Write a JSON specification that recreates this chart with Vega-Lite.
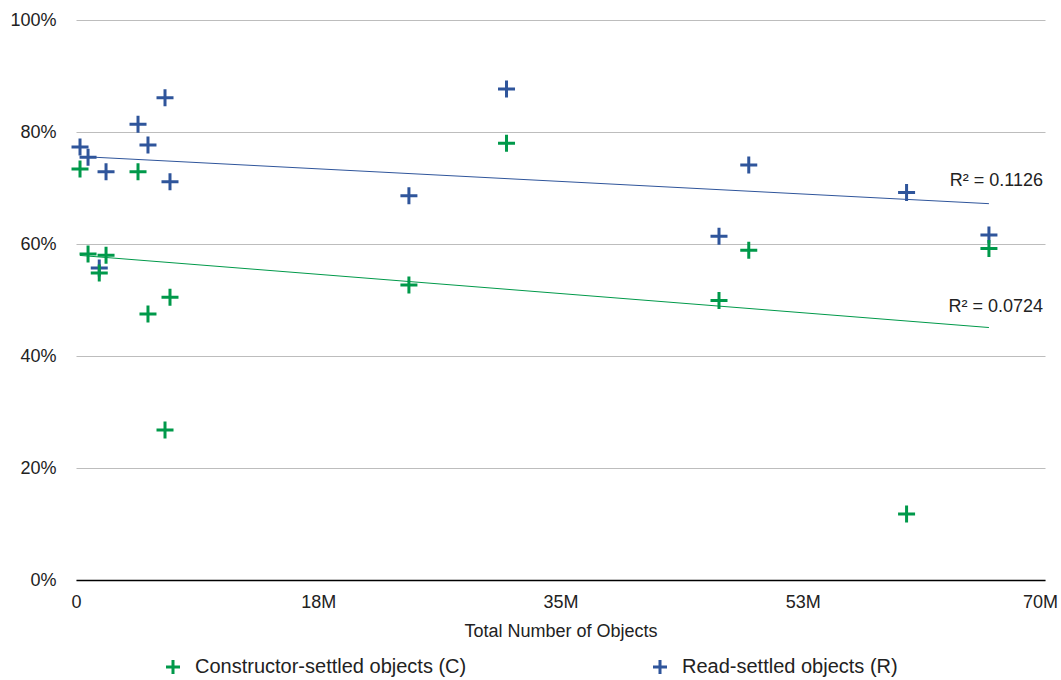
{
  "$schema": "https://vega.github.io/schema/vega-lite/v6.json",
  "width": 969,
  "height": 560,
  "autosize": "none",
  "padding": {"left": 76, "top": 20, "right": 16, "bottom": 100},
  "background": "white",
  "config": {
    "view": {"stroke": null},
    "font": "Liberation Sans",
    "axis": {"labelFont": "Liberation Sans", "titleFont": "Liberation Sans", "labelColor": "#222222", "titleColor": "#222222"}
  },
  "datasets": {
    "points": [
      {"objects": 290000, "settled": 0.773, "series": "Read-settled objects (R)"},
      {"objects": 870000, "settled": 0.755, "series": "Read-settled objects (R)"},
      {"objects": 1680000, "settled": 0.557, "series": "Read-settled objects (R)"},
      {"objects": 2170000, "settled": 0.729, "series": "Read-settled objects (R)"},
      {"objects": 4480000, "settled": 0.814, "series": "Read-settled objects (R)"},
      {"objects": 5200000, "settled": 0.777, "series": "Read-settled objects (R)"},
      {"objects": 6430000, "settled": 0.861, "series": "Read-settled objects (R)"},
      {"objects": 6790000, "settled": 0.711, "series": "Read-settled objects (R)"},
      {"objects": 24050000, "settled": 0.686, "series": "Read-settled objects (R)"},
      {"objects": 31100000, "settled": 0.877, "series": "Read-settled objects (R)"},
      {"objects": 46450000, "settled": 0.614, "series": "Read-settled objects (R)"},
      {"objects": 48600000, "settled": 0.741, "series": "Read-settled objects (R)"},
      {"objects": 60000000, "settled": 0.692, "series": "Read-settled objects (R)"},
      {"objects": 65950000, "settled": 0.616, "series": "Read-settled objects (R)"},
      {"objects": 290000, "settled": 0.734, "series": "Constructor-settled objects (C)"},
      {"objects": 870000, "settled": 0.582, "series": "Constructor-settled objects (C)"},
      {"objects": 1680000, "settled": 0.548, "series": "Constructor-settled objects (C)"},
      {"objects": 2170000, "settled": 0.580, "series": "Constructor-settled objects (C)"},
      {"objects": 4480000, "settled": 0.729, "series": "Constructor-settled objects (C)"},
      {"objects": 5200000, "settled": 0.475, "series": "Constructor-settled objects (C)"},
      {"objects": 6430000, "settled": 0.268, "series": "Constructor-settled objects (C)"},
      {"objects": 6790000, "settled": 0.505, "series": "Constructor-settled objects (C)"},
      {"objects": 24050000, "settled": 0.527, "series": "Constructor-settled objects (C)"},
      {"objects": 31100000, "settled": 0.780, "series": "Constructor-settled objects (C)"},
      {"objects": 46450000, "settled": 0.499, "series": "Constructor-settled objects (C)"},
      {"objects": 48600000, "settled": 0.589, "series": "Constructor-settled objects (C)"},
      {"objects": 60000000, "settled": 0.118, "series": "Constructor-settled objects (C)"},
      {"objects": 65950000, "settled": 0.592, "series": "Constructor-settled objects (C)"}
    ],
    "labels": [
      {"objects": 70000000, "settled": 0.7125, "label": "R² = 0.1126"},
      {"objects": 70000000, "settled": 0.4875, "label": "R² = 0.0724"}
    ]
  },
  "layer": [
    {
      "data": {"name": "points"},
      "transform": [{"regression": "settled", "on": "objects", "groupby": ["series"]}],
      "mark": {"type": "line", "strokeWidth": 1, "clip": false},
      "encoding": {
        "x": {"field": "objects", "type": "quantitative"},
        "y": {"field": "settled", "type": "quantitative"},
        "color": {"field": "series", "type": "nominal"}
      }
    },
    {
      "data": {"name": "points"},
      "mark": {"type": "point", "shape": "M-1,0H1M0,-1V1", "filled": false, "strokeWidth": 3, "size": 289, "opacity": 1},
      "encoding": {
        "x": {
          "field": "objects", "type": "quantitative",
          "scale": {"domain": [0, 70000000], "nice": false},
          "axis": {
            "title": "Total Number of Objects",
            "titleFontSize": 18, "titleFontWeight": "normal", "titlePadding": 11,
            "values": [0, 17500000, 35000000, 52500000, 70000000],
            "labelExpr": "datum.value == 0 ? '0' : round(datum.value / 1000000) + 'M'",
            "labelFontSize": 18, "labelPadding": 13,
            "labelOffset": {"condition": {"test": "datum.value == 70000000", "value": -5}, "value": 0},
            "ticks": false, "grid": false,
            "domainColor": "#000000", "domainWidth": 1.5,
            "labelFlush": false
          }
        },
        "y": {
          "field": "settled", "type": "quantitative",
          "scale": {"domain": [0, 1], "nice": false},
          "axis": {
            "title": null, "format": ".0%",
            "values": [0, 0.2, 0.4, 0.6, 0.8, 1],
            "labelFontSize": 18, "labelPadding": 20,
            "ticks": false, "domain": false,
            "gridColor": "#bdbdbd", "gridWidth": 1
          }
        },
        "color": {
          "field": "series", "type": "nominal",
          "scale": {"domain": ["Constructor-settled objects (C)", "Read-settled objects (R)"], "range": ["#00994a", "#2f559b"]},
          "legend": {
            "title": null, "orient": "none", "legendX": 87, "legendY": 637,
            "direction": "horizontal",
            "symbolType": "M-1,0H1M0,-1V1", "symbolStrokeWidth": 3, "symbolSize": 196,
            "labelFontSize": 20, "labelFont": "Liberation Sans", "labelColor": "#222222",
            "labelOffset": 12, "columnPadding": 180, "padding": 0, "labelLimit": 400
          }
        }
      }
    },
    {
      "data": {"name": "labels"},
      "mark": {"type": "text", "align": "right", "baseline": "middle", "fontSize": 18, "color": "#222222", "dx": -2},
      "encoding": {
        "x": {"field": "objects", "type": "quantitative"},
        "y": {"field": "settled", "type": "quantitative"},
        "text": {"field": "label"}
      }
    }
  ]
}
